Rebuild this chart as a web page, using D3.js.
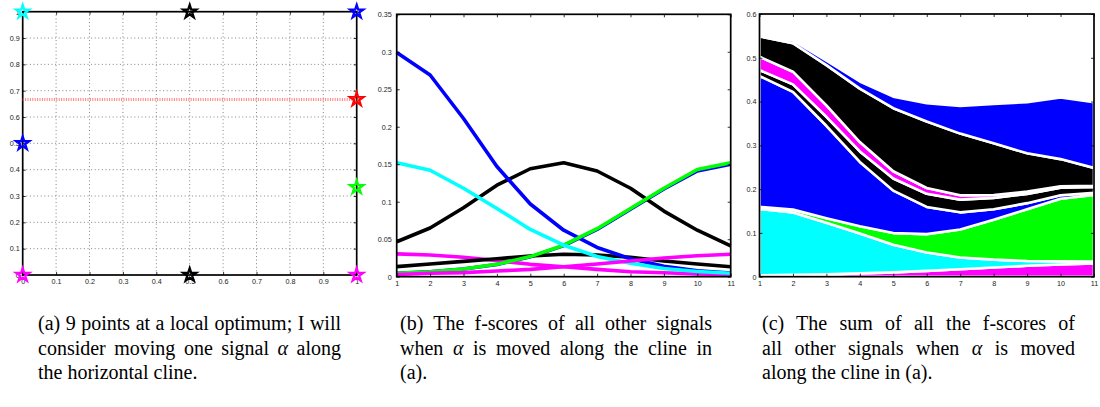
<!DOCTYPE html>
<html>
<head>
<meta charset="utf-8">
<script src="https://cdn.jsdelivr.net/npm/d3@7"></script>
<style>
  body { margin: 0; background: #fff; }
  svg { display: block; }
  .tick text { font-family: "Liberation Sans", Arial, sans-serif; fill: #222; }
  .caption { font-family: "Liberation Serif", "Times New Roman", serif; font-size: 20px; fill: #000; }
</style>
</head>
<body>
<svg id="fig" width="1100" height="407"></svg>
<script>
// ---- (a) signal positions on the unit square ----
const pointX = [0, 0.5, 1, 0, 1, 1, 0, 0.5, 1];
const pointY = [1, 1, 1, 0.5, 0.667, 0.333, 0, 0, 0];
const pointColor = ["#00ffff", "#000000", "#0000ff", "#0000ff", "#ff0000", "#00ff00", "#ff00ff", "#000000", "#ff00ff"];
const clineY = 0.667;
const unitTicks = [0, 0.1, 0.2, 0.3, 0.4, 0.5, 0.6, 0.7, 0.8, 0.9, 1];

// ---- (b)/(c) f-scores of the other signals at each step along the cline ----
const steps = [1, 2, 3, 4, 5, 6, 7, 8, 9, 10, 11];
const magentaRise = [0.003, 0.0045, 0.0054, 0.0076, 0.0098, 0.0133, 0.017, 0.021, 0.025, 0.028, 0.030];
const cyanScore   = [0.152, 0.142, 0.118, 0.091, 0.063, 0.042, 0.027, 0.018, 0.011, 0.007, 0.0045];
const greenScore  = [0.0045, 0.0067, 0.0103, 0.0165, 0.0268, 0.042, 0.064, 0.091, 0.118, 0.143, 0.152];
const blueLeft    = [0.299, 0.269, 0.211, 0.147, 0.097, 0.062, 0.039, 0.024, 0.014, 0.008, 0.005];
const blackLow    = [0.0134, 0.017, 0.0205, 0.024, 0.0277, 0.030, 0.029, 0.026, 0.021, 0.017, 0.0133];
const magentaFall = [0.0304, 0.029, 0.026, 0.0214, 0.0165, 0.0133, 0.0098, 0.0067, 0.0053, 0.0036, 0.0027];
const blackTop    = [0.0466, 0.065, 0.092, 0.122, 0.144, 0.152, 0.141, 0.118, 0.0875, 0.062, 0.041];
const blueRight   = [0.0045, 0.0066, 0.0102, 0.0163, 0.0265, 0.0415, 0.063, 0.090, 0.117, 0.141, 0.150];

const ticksB = [0, 0.05, 0.1, 0.15, 0.2, 0.25, 0.3, 0.35];
const ticksC = [0, 0.1, 0.2, 0.3, 0.4, 0.5, 0.6];

// series in stacking order (bottom first)
const seriesKeys = ["magentaRise", "cyanScore", "greenScore", "blueLeft", "blackLow", "magentaFall", "blackTop", "blueRight"];
const seriesData = { magentaRise, cyanScore, greenScore, blueLeft, blackLow, magentaFall, blackTop, blueRight };
const seriesColor = {
  magentaRise: "#ff00ff", cyanScore: "#00ffff", greenScore: "#00ff00", blueLeft: "#0000ff",
  blackLow: "#000000", magentaFall: "#ff00ff", blackTop: "#000000", blueRight: "#0000ff"
};

const svg = d3.select("#fig");
const fmt = d => d3.format("~g")(d);

// draws inward ticks on all four sides and the box
function frame(g, x, y, xt, yt, labelPad) {
  const [x0, x1] = x.range();
  const [y0, y1] = y.range();
  g.append("g").attr("transform", `translate(0,${y0})`)
    .call(d3.axisBottom(x).tickValues(xt).tickSize(-3).tickPadding(4).tickFormat(fmt))
    .call(a => a.select(".domain").remove())
    .call(a => a.selectAll("text").attr("font-size", 7.2));
  g.append("g").attr("transform", `translate(0,${y1})`)
    .call(d3.axisTop(x).tickValues(xt).tickSize(-3).tickFormat(""))
    .call(a => a.select(".domain").remove());
  g.append("g").attr("transform", `translate(${x0},0)`)
    .call(d3.axisLeft(y).tickValues(yt).tickSize(-3).tickPadding(labelPad).tickFormat(fmt))
    .call(a => a.select(".domain").remove())
    .call(a => a.selectAll("text").attr("font-size", 7.2));
  g.append("g").attr("transform", `translate(${x1},0)`)
    .call(d3.axisRight(y).tickValues(yt).tickSize(-3).tickFormat(""))
    .call(a => a.select(".domain").remove());
  g.selectAll(".tick line").attr("stroke", "#000").attr("stroke-width", 0.8);
  g.append("rect")
    .attr("x", x0).attr("y", y1).attr("width", x1 - x0).attr("height", y0 - y1)
    .attr("fill", "none").attr("stroke", "#000").attr("stroke-width", 1.7);
}

// ---------- (a) ----------
{
  const x = d3.scaleLinear().domain([0, 1]).range([22.7, 356.7]);
  const y = d3.scaleLinear().domain([0, 1]).range([275, 11.7]);
  const g = svg.append("g");
  const inner = unitTicks.slice(1, -1);
  g.append("g").selectAll("line").data(inner).join("line")
    .attr("x1", d => x(d)).attr("x2", d => x(d)).attr("y1", y(0)).attr("y2", y(1))
    .attr("stroke", "#666").attr("stroke-width", 0.8).attr("stroke-dasharray", "1,2.6");
  g.append("g").selectAll("line").data(inner).join("line")
    .attr("y1", d => y(d)).attr("y2", d => y(d)).attr("x1", x(0)).attr("x2", x(1))
    .attr("stroke", "#666").attr("stroke-width", 0.8).attr("stroke-dasharray", "1,2.6");
  frame(g, x, y, unitTicks, unitTicks, 3);
  g.append("line")
    .attr("x1", x(0)).attr("x2", x(1)).attr("y1", y(clineY)).attr("y2", y(clineY))
    .attr("stroke", "#ff5a5a").attr("stroke-opacity", 0.75).attr("stroke-width", 3)
    .attr("stroke-dasharray", "1,1.4");
  const outer = d3.symbol().type(d3.symbolStar).size(74)();
  const innerStar = d3.symbol().type(d3.symbolStar).size(30)();
  pointX.forEach((px, i) => {
    const s = g.append("g").attr("transform", `translate(${x(px)},${y(pointY[i])})`);
    s.append("path").attr("d", outer).attr("fill", "none")
      .attr("stroke", pointColor[i]).attr("stroke-width", 1.5);
    s.append("path").attr("d", innerStar).attr("fill", "none")
      .attr("stroke", pointColor[i]).attr("stroke-width", 1.3);
  });
}

// ---------- (b) ----------
{
  const x = d3.scaleLinear().domain([1, 11]).range([396.7, 730.7]);
  const y = d3.scaleLinear().domain([0, 0.35]).range([276.7, 14.3]);
  const g = svg.append("g");
  const line = d3.line().x((d, i) => x(steps[i])).y(d => y(d));
  // later signals drawn first so the earlier ones sit on top
  seriesKeys.slice().reverse().forEach(k => {
    g.append("path").attr("d", line(seriesData[k]))
      .attr("fill", "none").attr("stroke", seriesColor[k])
      .attr("stroke-width", 3.6).attr("stroke-linejoin", "round");
  });
  frame(g, x, y, steps, ticksB, 5);
}

// ---------- (c) ----------
{
  const x = d3.scaleLinear().domain([1, 11]).range([759.5, 1094]);
  const y = d3.scaleLinear().domain([0, 0.6]).range([276.7, 14]);
  const g = svg.append("g");
  svg.append("clipPath").attr("id", "clipC").append("rect")
    .attr("x", 759.5).attr("y", 14).attr("width", 1094 - 759.5).attr("height", 276.7 - 14);
  const rows = steps.map((s, i) => {
    const r = { step: s };
    seriesKeys.forEach(k => r[k] = seriesData[k][i]);
    return r;
  });
  const stacked = d3.stack().keys(seriesKeys)(rows);
  const area = d3.area().x(d => x(d.data.step)).y0(d => y(d[0])).y1(d => y(d[1]));
  const ga = g.append("g").attr("clip-path", "url(#clipC)");
  stacked.forEach(layer => {
    ga.append("path").attr("d", area(layer))
      .attr("fill", seriesColor[layer.key]).attr("stroke", "#fff")
      .attr("stroke-width", 2.6).attr("stroke-linejoin", "round");
  });
  frame(g, x, y, steps, ticksC, 3);
}

// ---------- captions (serif, justified by widening the word gaps) ----------
const captions = [
  { x: 38, w: 303, lines: [
    [["(a) 9 points at a local optimum; I will", false]],
    [["consider moving one signal ", false], ["α", true], [" along", false]],
    [["the horizontal cline.", false]] ] },
  { x: 400, w: 312, lines: [
    [["(b) The f-scores of all other signals", false]],
    [["when ", false], ["α", true], [" is moved along the cline in", false]],
    [["(a).", false]] ] },
  { x: 762, w: 313, lines: [
    [["(c) The sum of all the f-scores of", false]],
    [["all other signals when ", false], ["α", true], [" is moved", false]],
    [["along the cline in (a).", false]] ] }
];
const baselines = [330, 354.5, 379];
captions.forEach(c => {
  c.lines.forEach((parts, li) => {
    const t = svg.append("text").attr("class", "caption")
      .attr("x", c.x).attr("y", baselines[li]);
    parts.forEach(([s, it]) => {
      const ts = t.append("tspan").text(s);
      if (it) ts.attr("font-style", "italic");
    });
    if (li < 2) {
      const natural = t.node().getComputedTextLength();
      const gaps = parts.map(p => p[0]).join("").split(" ").length - 1;
      t.attr("word-spacing", (c.w - natural) / gaps);
    }
  });
});
</script>
</body>
</html>
